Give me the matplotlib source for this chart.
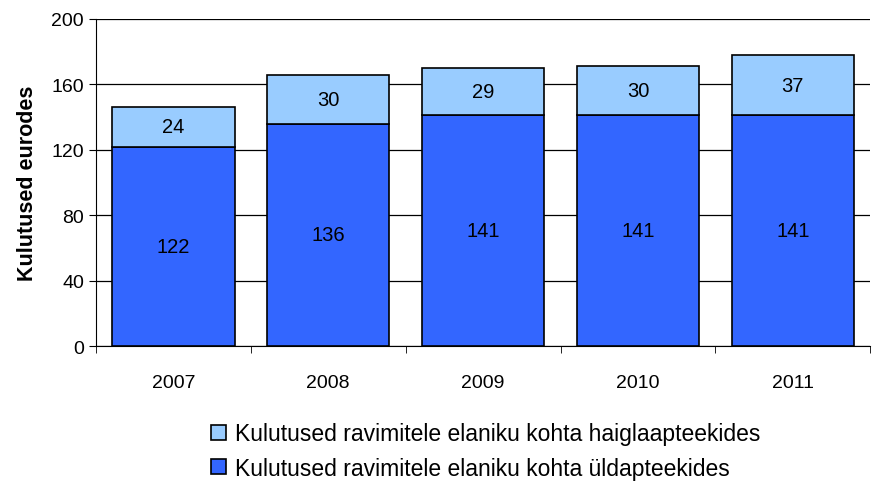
import matplotlib
matplotlib.use("Agg")
import matplotlib.pyplot as plt
import numpy as np

years = ["2007", "2008", "2009", "2010", "2011"]
yld = [122, 136, 141, 141, 141]      # üldapteekides
haigla = [24, 30, 29, 30, 37]        # haiglaapteekides

label_haigla = "Kulutused ravimitele elaniku kohta haiglaapteekides"
label_yld = "Kulutused ravimitele elaniku kohta üldapteekides"

plt.rcParams['font.family'] = ['Liberation Sans', 'DejaVu Sans']

fig = plt.figure(figsize=(8.72, 4.85), dpi=100)
ax = fig.add_axes([0.110, 0.2845, 0.888, 0.6743])

x = np.arange(len(years))
w = 0.79
b1 = ax.bar(x, yld, w, color="#3366FF", edgecolor="black", linewidth=1.2,
            label=label_yld, zorder=3)
b2 = ax.bar(x, haigla, w, bottom=yld, color="#99CCFF", edgecolor="black",
            linewidth=1.2, label=label_haigla, zorder=3)

for i in range(len(years)):
    ax.text(x[i], yld[i] / 2, str(yld[i]), ha="center", va="center", fontsize=14.5, zorder=4)
    ax.text(x[i], yld[i] + haigla[i] / 2, str(haigla[i]), ha="center", va="center",
            fontsize=14.5, zorder=4)

ax.set_xlim(-0.5, len(years) - 0.5)
ax.set_ylim(0, 200)
ax.set_yticks(range(0, 201, 40))
ax.set_xticks(x)
ax.set_xticklabels(years, fontsize=14)
ax.set_xticks(np.arange(-0.5, len(years), 1), minor=True)
ax.tick_params(axis="x", which="major", length=0, pad=20)
ax.tick_params(axis="x", which="minor", length=5, direction="out")
ax.tick_params(axis="y", labelsize=14, length=5)
ax.yaxis.grid(True, color="black", linewidth=0.9, zorder=0)
ax.spines["top"].set_visible(False)
ax.spines["right"].set_visible(False)
ax.set_ylabel("Kulutused eurodes", fontsize=15.5, fontweight="bold", labelpad=10)

fig.legend(handles=[b2, b1], labels=[label_haigla, label_yld], loc="center left",
           bbox_to_anchor=(0.242, 0.068), frameon=False, fontsize=16.5,
           handlelength=0.65, handleheight=0.65, handletextpad=0.4, labelspacing=0.5,
           borderaxespad=0, borderpad=0)

fig.savefig("out.png", dpi=100)
